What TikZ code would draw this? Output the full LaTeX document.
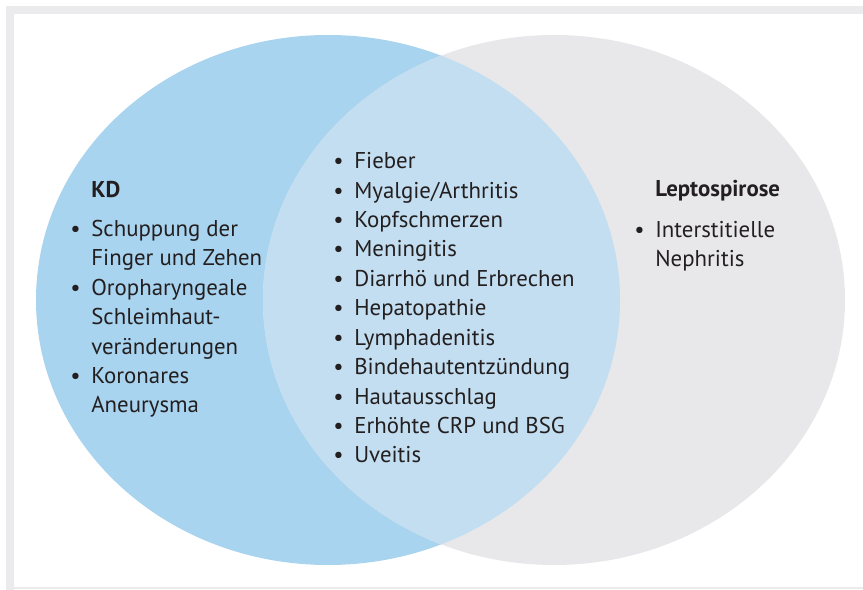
\documentclass[tikz,border=0pt]{standalone}
\usepackage{fontspec}
\setmainfont{PT Sans}
\usepackage{xcolor}
\definecolor{kdblue}{HTML}{A9D4EF}
\definecolor{overlapblue}{HTML}{C3DEF0}
\definecolor{leptogray}{HTML}{E8E8EA}
\definecolor{framegray}{HTML}{EBEBED}
\definecolor{textdark}{HTML}{231F20}
\newcommand{\bul}{\llap{\textbullet\hspace{6pt}}}

\begin{document}
\begin{tikzpicture}[x=0.02cm,y=-0.02cm,
  every node/.style={inner sep=0pt,text=textdark,font=\fontsize{13}{16.75}\selectfont},
  listtext/.style={anchor=base west,align=left},
  titletext/.style={anchor=base west,font=\fontsize{13}{16.75}\selectfont\bfseries}]
\useasboundingbox (0,0) rectangle (863,590);

% Frame
\fill[framegray] (6,6) rectangle (863,14);
\fill[framegray] (6,6) rectangle (14,590);
\fill[framegray] (14,587.5) rectangle (863,589.5);

% Ellipses
\fill[kdblue] (328,300) ellipse [x radius=292, y radius=265];
\fill[leptogray] (554,300) ellipse [x radius=291, y radius=265];
\begin{scope}
\clip (328,300) ellipse [x radius=292, y radius=265];
\fill[overlapblue] (554,300) ellipse [x radius=291, y radius=265];
\end{scope}

% KD only (base = last line)
\node[titletext] (kdtitle) at (91,197.5) {KD};
\node[listtext] (kdlist) at (91,413) {\bul Schuppung der\\ Finger und Zehen\\
  \bul Oropharyngeale\\ Schleimhaut-\\ veränderungen\\ \bul Koronares\\ Aneurysma};

% Common
\node[listtext] (common) at (354,463) {\bul Fieber\\ \bul Myalgie/Arthritis\\
  \bul Kopfschmerzen\\ \bul Meningitis\\ \bul Diarrhö und Erbrechen\\
  \bul Hepatopathie\\ \bul Lymphadenitis\\ \bul Bindehautentzündung\\
  \bul Hautausschlag\\ \bul Erhöhte CRP und BSG\\ \bul Uveitis};

% Leptospirose only
\node[titletext] (leptotitle) at (655,197) {Leptospirose};
\node[listtext] (leptolist) at (655,267) {\bul Interstitielle\\ Nephritis};

\end{tikzpicture}
\end{document}
